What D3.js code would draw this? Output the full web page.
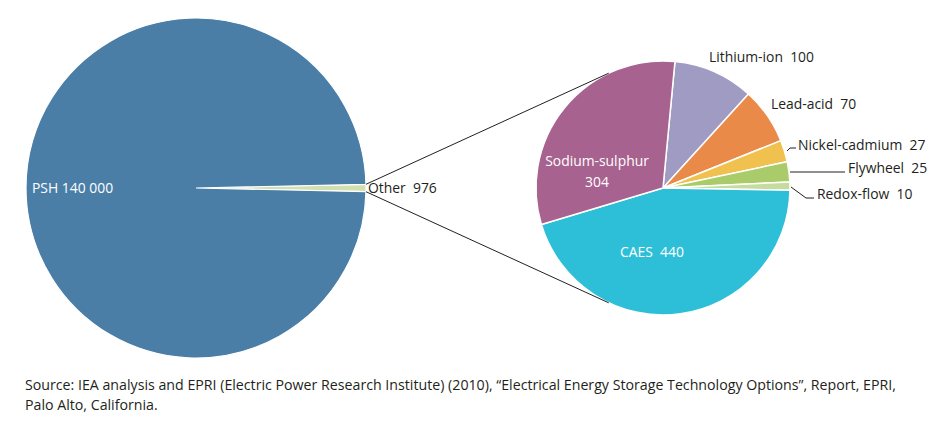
<!DOCTYPE html>
<html><head><meta charset="utf-8">
<script src="https://cdn.jsdelivr.net/npm/d3@7"></script>
<style>body{margin:0;background:#fff}svg{display:block}text{font-family:"Open Sans",sans-serif;white-space:pre}</style>
</head><body><svg id="c" width="942" height="423"></svg>
<script>
const mainCategories = ["Other", "PSH"];
const mainValues = [976, 140000];
const mainLabels = ["Other  976", "PSH 140 000"];
const subCategories = ["Lithium-ion", "Lead-acid", "Nickel-cadmium", "Flywheel", "Redox-flow", "CAES", "Sodium-sulphur"];
const subValues = [100, 70, 27, 25, 10, 440, 304];
const sourceLines = ["Source: IEA analysis and EPRI (Electric Power Research Institute) (2010), \u201cElectrical Energy Storage Technology Options\u201d, Report, EPRI,", "Palo Alto, California."];

const svg = d3.select("#c");
const mainColor = d3.scaleOrdinal().domain(mainCategories).range(["#d2dfae", "#4a7ea7"]);
const subColor = d3.scaleOrdinal().domain(subCategories).range(["#9f9bc2", "#ea8a48", "#f1c14f", "#a9cb69", "#c6dc9c", "#2ebfd8", "#a8628f"]);

const C1 = [196, 188], R1 = 170;
const C2 = [663, 188], R2 = 127;
const ink = "#231f20";
const fs = 13.9;

// main pie
const otherAng = 2 * Math.PI * mainValues[0] / d3.sum(mainValues);
const pie1 = d3.pie().sort(null).value(d => d.v)
  .startAngle(Math.PI / 2 - otherAng / 2).endAngle(Math.PI / 2 - otherAng / 2 + 2 * Math.PI);
const arcs1 = pie1(mainCategories.map((c, i) => ({c, v: mainValues[i]})));
const arc1 = d3.arc().innerRadius(0).outerRadius(R1);
const g1 = svg.append("g").attr("transform", `translate(${C1})`);
g1.selectAll("path").data(arcs1).join("path")
  .attr("d", arc1).attr("fill", d => mainColor(d.data.c))
  .attr("stroke", "#fff").attr("stroke-width", 1.2);

// sub pie
const off = 5.4 * Math.PI / 180;
const pie2 = d3.pie().sort(null).value(d => d.v).startAngle(off).endAngle(off + 2 * Math.PI);
const arcs2 = pie2(subCategories.map((c, i) => ({c, v: subValues[i]})));
const arc2 = d3.arc().innerRadius(0).outerRadius(R2);
const g2 = svg.append("g").attr("transform", `translate(${C2})`);
g2.selectAll("path").data(arcs2).join("path")
  .attr("d", arc2).attr("fill", d => subColor(d.data.c))
  .attr("stroke", "#fff").attr("stroke-width", 1.5);

// connector lines (from Other wedge edges to tangent points of sub pie)
const p = d => [Math.sin(d), -Math.cos(d)];
const eTop = p(Math.PI / 2 - otherAng / 2), eBot = p(Math.PI / 2 + otherAng / 2);
const dist = C2[0] - C1[0] - R1;
const tang = Math.acos(R2 / dist);
const tTop = p(1.5 * Math.PI + tang), tBot = p(1.5 * Math.PI - tang);
const lines = [
  [[C1[0] + R1 * eTop[0], C1[1] + R1 * eTop[1]], [C2[0] + R2 * tTop[0], C2[1] + R2 * tTop[1]]],
  [[C1[0] + R1 * eBot[0], C1[1] + R1 * eBot[1]], [C2[0] + R2 * tBot[0], C2[1] + R2 * tBot[1]]]
];
svg.selectAll("line.conn").data(lines).join("line").attr("class", "conn")
  .attr("x1", d => d[0][0]).attr("y1", d => d[0][1]).attr("x2", d => d[1][0]).attr("y2", d => d[1][1])
  .attr("stroke", ink).attr("stroke-width", 1);

// labels main
svg.append("text").attr("x", 32).attr("y", 193).attr("fill", "#fff").attr("font-size", fs).text(mainLabels[1]);
svg.append("text").attr("x", 368).attr("y", 193).attr("fill", ink).attr("font-size", fs).text(mainLabels[0]);

// sub labels
const lab = (x, y, t, fill, anchor) => svg.append("text").attr("x", x).attr("y", y).attr("fill", fill)
  .attr("font-size", fs).attr("text-anchor", anchor || "start").text(t);
lab(709, 62, `${subCategories[0]}  ${subValues[0]}`, ink);
lab(771, 109, `${subCategories[1]}  ${subValues[1]}`, ink);
lab(798, 150, `${subCategories[2]}  ${subValues[2]}`, ink);
lab(848, 173, `${subCategories[3]}  ${subValues[3]}`, ink);
lab(817, 199, `${subCategories[4]}  ${subValues[4]}`, ink);
lab(597, 166, subCategories[6], "#fff", "middle");
lab(597, 187, `${subValues[6]}`, "#fff", "middle");
lab(652, 257, `${subCategories[5]}  ${subValues[5]}`, "#fff", "middle");

// leader lines
const leaders = [
  [[787, 151], [790, 148], [796, 148]],
  [[790, 172], [845, 172]],
  [[791, 187], [806, 198], [814, 198]]
];
svg.selectAll("path.lead").data(leaders).join("path").attr("class", "lead")
  .attr("d", d3.line()).attr("fill", "none").attr("stroke", ink).attr("stroke-width", 1);

// source
svg.selectAll("text.src").data(sourceLines).join("text").attr("class", "src")
  .attr("x", 25).attr("y", (d, i) => 390 + i * 20).attr("fill", ink).attr("font-size", 14.2).text(d => d);
</script></body></html>
